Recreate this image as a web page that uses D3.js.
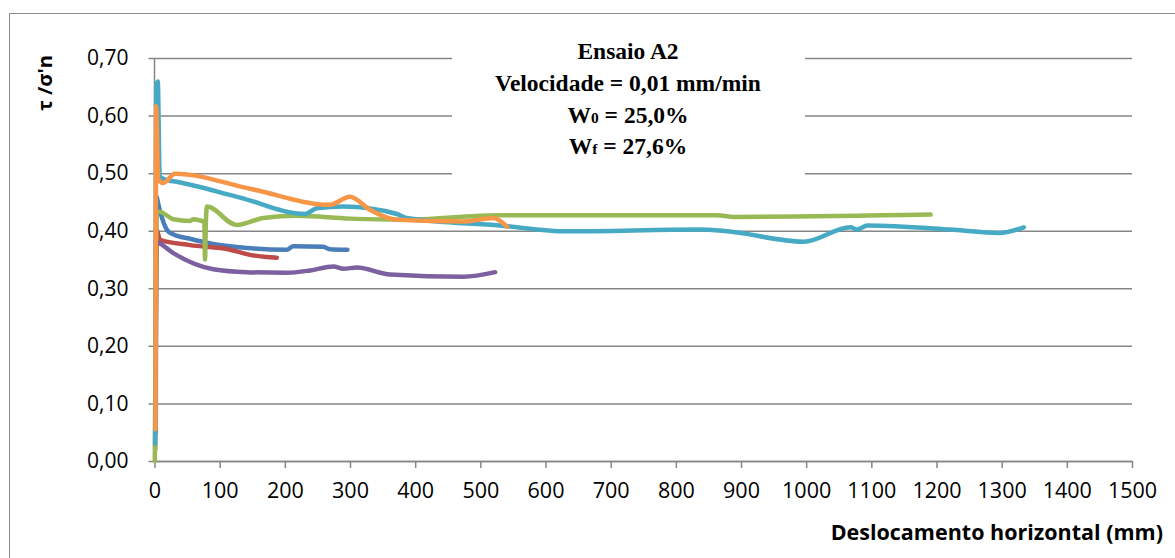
<!DOCTYPE html>
<html>
<head>
<meta charset="utf-8">
<script src="https://cdn.jsdelivr.net/npm/d3@7"></script>
<style>
  body { margin: 0; background: #fff; }
  svg { display: block; }
</style>
</head>
<body>
<div id="chart"></div>
<script>
// Data: displacement (mm) and tau/sigma'n per series
var blueX   = [2, 3, 5.4, 20.7, 28.4, 54.5, 89.8, 142, 203, 213, 259, 269, 296];
var blueY   = [0.05, 0.46, 0.448, 0.399, 0.394, 0.386, 0.377, 0.370, 0.367, 0.373, 0.372, 0.368, 0.367];

var redX    = [1, 4, 5.8, 8.4, 54.5, 116, 146.6, 187.6];
var redY    = [0.02, 0.40, 0.393, 0.384, 0.375, 0.367, 0.358, 0.353];

var greenX  = [0.5, 3, 7.4, 28.9, 54.5, 59.6, 72.5, 76.5, 77.5, 79, 80.5, 126, 167, 218, 300, 380, 530, 863, 889, 1191];
var greenY  = [0.0, 0.43, 0.433, 0.420, 0.417, 0.420, 0.417, 0.415, 0.350, 0.42, 0.442, 0.410, 0.422, 0.426, 0.421, 0.419, 0.427, 0.427, 0.424, 0.428];

var purpleX = [2, 5.8, 28.9, 90.3, 141.6, 203, 238.8, 274.5, 290, 310.5, 361.6, 474, 522.8];
var purpleY = [0.38, 0.379, 0.361, 0.333, 0.328, 0.327, 0.331, 0.338, 0.334, 0.336, 0.324, 0.320, 0.328];

var aquaX   = [1, 2.5, 5, 8, 19, 34, 130, 231, 249, 290, 372, 387, 530, 633, 837, 879, 996, 1068, 1078, 1094, 1221, 1296, 1334];
var aquaY   = [0.03, 0.65, 0.659, 0.494, 0.488, 0.485, 0.458, 0.429, 0.439, 0.442, 0.429, 0.422, 0.409, 0.399, 0.402, 0.399, 0.381, 0.406, 0.402, 0.409, 0.402, 0.396, 0.406];

var orangeX = [1.5, 2.5, 5.8, 13.5, 31.5, 150, 269, 300, 331, 372, 474, 520, 541];
var orangeY = [0.055, 0.616, 0.488, 0.483, 0.499, 0.472, 0.445, 0.459, 0.436, 0.419, 0.416, 0.422, 0.407];

var seriesList = [
  { name: "blue",   xs: blueX,   ys: blueY,   color: "#4a7ebb" },
  { name: "red",    xs: redX,    ys: redY,    color: "#be4b48" },
  { name: "green",  xs: greenX,  ys: greenY,  color: "#98b954" },
  { name: "purple", xs: purpleX, ys: purpleY, color: "#7d60a0" },
  { name: "aqua",   xs: aquaX,   ys: aquaY,   color: "#46aac5" },
  { name: "orange", xs: orangeX, ys: orangeY, color: "#f79646" }
];

var xTicks = [0, 100, 200, 300, 400, 500, 600, 700, 800, 900, 1000, 1100, 1200, 1300, 1400, 1500];
var yTicks = [0, 0.1, 0.2, 0.3, 0.4, 0.5, 0.6, 0.7];
var titleLines = ["Ensaio A2", "Velocidade = 0,01 mm/min", "W0 = 25,0%", "Wf = 27,6%"];

var width = 1175, height = 558;
var margin = { top: 58, right: 43, bottom: 97, left: 154.5 };

var svg = d3.select("#chart").append("svg")
  .attr("width", width)
  .attr("height", height);

// outer frame of the chart area
svg.append("rect")
  .attr("x", 9.5).attr("y", 13.5)
  .attr("width", width + 20).attr("height", height + 20)
  .attr("fill", "none")
  .attr("stroke", "#8c8c8c")
  .attr("stroke-width", 1);

var xScale = d3.scaleLinear().domain([0, 1500]).range([margin.left, width - margin.right]);
var yScale = d3.scaleLinear().domain([0, 0.7]).range([height - margin.bottom, margin.top]);

var gridColor = "#868686";
var fmt = function(d) { return d3.format(".2f")(d).replace(".", ","); };

// horizontal gridlines + y axis
var yAxis = d3.axisLeft(yScale)
  .tickValues(yTicks)
  .tickSize(-(xScale(1500) - xScale(0)))
  .tickFormat(fmt);
var gy = svg.append("g")
  .attr("transform", "translate(" + xScale(0) + ",0)")
  .call(yAxis);
gy.select(".domain").remove();
gy.selectAll(".tick line")
  .attr("stroke", gridColor)
  .attr("stroke-width", 1.5)
  .attr("x1", -6);
gy.selectAll(".tick text")
  .attr("x", -26)
  .attr("fill", "#000")
  .style("font-family", "'Open Sans', sans-serif")
  .style("font-size", "21px");

// vertical axis line
svg.append("line")
  .attr("x1", xScale(0)).attr("x2", xScale(0))
  .attr("y1", yScale(0.7)).attr("y2", yScale(0))
  .attr("stroke", gridColor)
  .attr("stroke-width", 1.5);

// x axis
var xAxis = d3.axisBottom(xScale)
  .tickValues(xTicks)
  .tickSize(7)
  .tickSizeOuter(0)
  .tickFormat(d3.format("d"));
var gx = svg.append("g")
  .attr("transform", "translate(0," + yScale(0) + ")")
  .call(xAxis);
gx.select(".domain").attr("stroke", gridColor).attr("stroke-width", 1.5);
gx.selectAll(".tick line").attr("stroke", gridColor).attr("stroke-width", 1.5);
gx.selectAll(".tick text")
  .attr("y", 22)
  .attr("fill", "#000")
  .style("font-family", "'Open Sans', sans-serif")
  .style("font-size", "21.5px");

// white box behind the test info
svg.append("rect")
  .attr("x", 452).attr("y", 35)
  .attr("width", 353).attr("height", 155)
  .attr("fill", "#fff");

// series lines
var line = d3.line()
  .x(function(d) { return xScale(d[0]); })
  .y(function(d) { return yScale(d[1]); })
  .curve(d3.curveMonotoneX);

seriesList.forEach(function(s) {
  var pts = s.xs.map(function(x, i) { return [x, s.ys[i]]; });
  svg.append("path")
    .datum(pts)
    .attr("d", line)
    .attr("fill", "none")
    .attr("stroke", s.color)
    .attr("stroke-width", 4.5)
    .attr("stroke-linecap", "round")
    .attr("stroke-linejoin", "round");
});

// info text block
var info = svg.append("text")
  .attr("text-anchor", "middle")
  .style("font-family", "'Liberation Serif', 'Times New Roman', serif")
  .style("font-weight", "bold")
  .style("font-size", "23.5px")
  .attr("fill", "#000");
var infoY = [59, 91, 122.5, 154];
titleLines.forEach(function(t, i) {
  var tl = info.append("tspan").attr("x", 628).attr("y", infoY[i]);
  if (t.charAt(0) === "W") {
    tl.text("W");
    tl.append("tspan").style("font-size", "15.5px").text(t.charAt(1));
    tl.append("tspan").text(t.slice(2));
  } else {
    tl.text(t);
  }
});

// axis titles
svg.append("text")
  .attr("transform", "translate(52,83) rotate(-90)")
  .attr("text-anchor", "middle")
  .style("font-family", "'Open Sans', sans-serif")
  .style("font-weight", "bold")
  .style("font-size", "20px")
  .attr("fill", "#000")
  .text("τ /σ'n");

svg.append("text")
  .attr("x", 1163).attr("y", 540)
  .attr("text-anchor", "end")
  .style("font-family", "'Open Sans', sans-serif")
  .style("font-weight", "bold")
  .style("font-size", "21.5px")
  .attr("fill", "#000")
  .text("Deslocamento horizontal (mm)");
</script>
</body>
</html>
